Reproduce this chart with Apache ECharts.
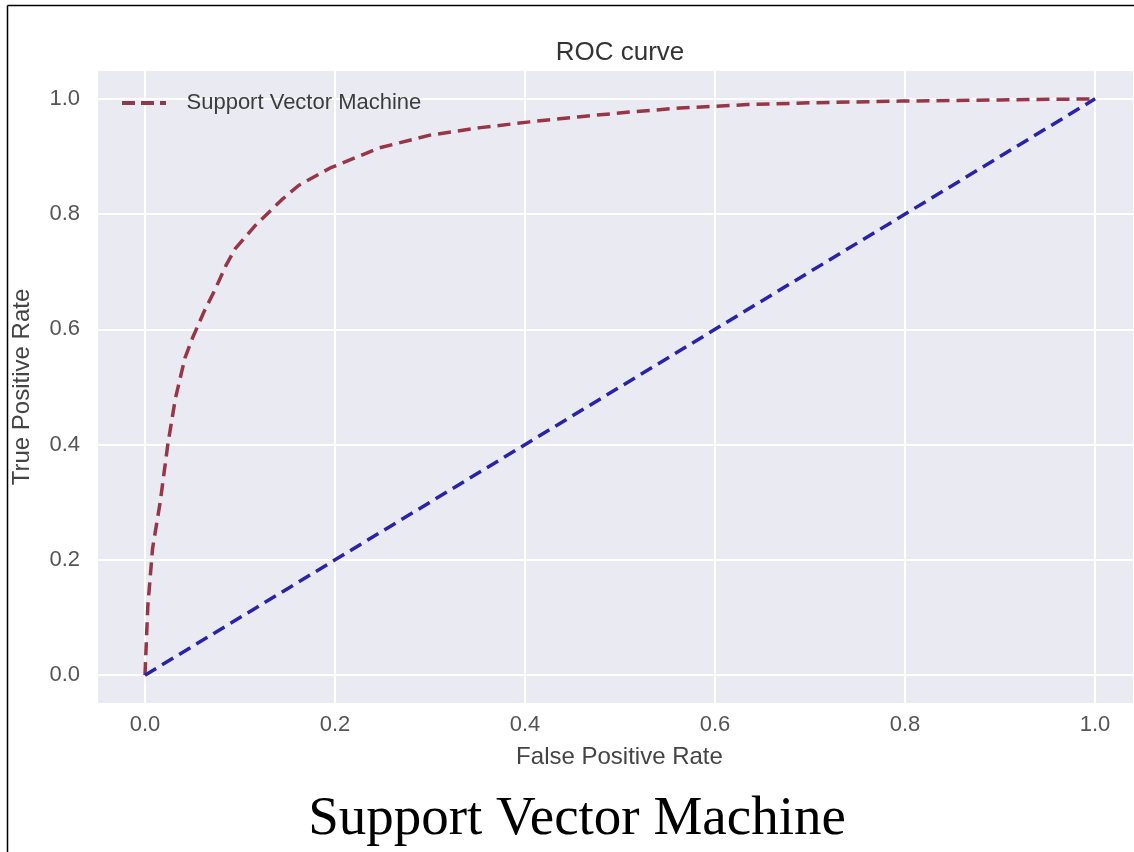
<!DOCTYPE html>
<html>
<head>
<meta charset="utf-8">
<script src="https://cdn.jsdelivr.net/npm/echarts@6/dist/echarts.min.js"></script>
<style>
html,body{margin:0;padding:0;background:#fff;}
#chart{width:1134px;height:852px;}
</style>
</head>
<body>
<div id="chart"></div>
<script>
// ROC curve data
const fpr = [0, 0.003, 0.008, 0.016, 0.024, 0.032, 0.042, 0.05, 0.062, 0.074, 0.085, 0.095, 0.116, 0.144, 0.162, 0.195, 0.247, 0.30, 0.353, 0.405, 0.458, 0.51, 0.563, 0.634, 0.70, 0.795, 0.90, 1.0];
const tpr = [0, 0.12, 0.22, 0.30, 0.40, 0.48, 0.55, 0.585, 0.63, 0.67, 0.71, 0.74, 0.78, 0.825, 0.85, 0.88, 0.915, 0.937, 0.95, 0.96, 0.969, 0.977, 0.984, 0.99, 0.993, 0.996, 0.998, 1.0];
const chanceX = [0, 1];
const chanceY = [0, 1];
const seriesName = 'Support Vector Machine';
const titleText = 'ROC curve';
const xName = 'False Positive Rate';
const yName = 'True Positive Rate';
const caption = 'Support Vector Machine';

const chart = echarts.init(document.getElementById('chart'), null, {renderer: 'canvas'});
const sans = 'Liberation Sans, Arial, sans-serif';
const dashIcon = 'path://M0 0H13V4H0Z M19 0H32V4H19Z M38 0H44V4H38Z';
const option = {
  backgroundColor: '#ffffff',
  animation: false,
  title: {
    text: titleText,
    left: 615,
    top: 35,
    textAlign: 'center',
    textStyle: {fontFamily: sans, fontSize: 26, fontWeight: 'normal', color: '#333333'}
  },
  legend: {
    data: [{name: seriesName, icon: dashIcon}],
    left: 117,
    top: 87,
    itemWidth: 45,
    itemHeight: 4,
    itemStyle: {color: '#8e3a4a'},
    textStyle: {fontFamily: sans, fontSize: 22, color: '#3c3c3c', padding: [0, 0, 0, 15]}
  },
  grid: {
    left: 97, top: 70, right: 0, height: 634,
    show: true, backgroundColor: '#EAEAF2', borderWidth: 0,
    containLabel: false
  },
  xAxis: {
    type: 'value',
    min: -0.0505, max: 1.041, splitNumber: 5,
    name: xName, nameLocation: 'middle', nameGap: 41,
    nameTextStyle: {fontFamily: sans, fontSize: 24, color: '#444444', padding: [0, 0, 0, 8]},
    axisLine: {show: false}, axisTick: {show: false},
    axisLabel: {fontFamily: sans, fontSize: 22, color: '#555555', margin: 10,
      showMinLabel: false, showMaxLabel: false,
      formatter: v => v.toFixed(1)},
    splitLine: {show: true, lineStyle: {color: '#ffffff', width: 2}}
  },
  yAxis: {
    type: 'value',
    min: -0.05, max: 1.05, splitNumber: 5,
    name: yName, nameLocation: 'middle', nameGap: 63, nameRotate: 90,
    nameTextStyle: {fontFamily: sans, fontSize: 24, color: '#444444'},
    axisLine: {show: false}, axisTick: {show: false},
    axisLabel: {fontFamily: sans, fontSize: 22, color: '#555555', margin: 17,
      showMinLabel: false, showMaxLabel: false,
      formatter: v => v.toFixed(1)},
    splitLine: {show: true, lineStyle: {color: '#ffffff', width: 2}}
  },
  series: [
    {
      name: seriesName,
      type: 'line',
      data: fpr.map((x, i) => [x, tpr[i]]),
      symbol: 'none',
      smooth: false,
      lineStyle: {color: '#973646', width: 3.5, type: [13, 7]},
      itemStyle: {color: '#973646'},
      z: 3
    },
    {
      name: 'chance',
      type: 'line',
      data: chanceX.map((x, i) => [x, chanceY[i]]),
      symbol: 'none',
      lineStyle: {color: '#2a23a8', width: 3.5, type: [13, 7]},
      itemStyle: {color: '#2a23a8'},
      z: 4
    }
  ],
  graphic: [
    {type: 'line', shape: {x1: 7.5, y1: 5.5, x2: 1134, y2: 5.5}, style: {stroke: '#000', lineWidth: 1.5}, z: 100},
    {type: 'line', shape: {x1: 7.5, y1: 5.5, x2: 7.5, y2: 852}, style: {stroke: '#000', lineWidth: 1.5}, z: 100},
    {type: 'text', x: 577, y: 820, z: 100,
      style: {text: caption, fontFamily: 'Liberation Serif, Times New Roman, serif', fontSize: 55,
        fill: '#000', textAlign: 'center', textVerticalAlign: 'middle', verticalAlign: 'middle'}}
  ]
};
chart.setOption(option);
</script>
</body>
</html>
